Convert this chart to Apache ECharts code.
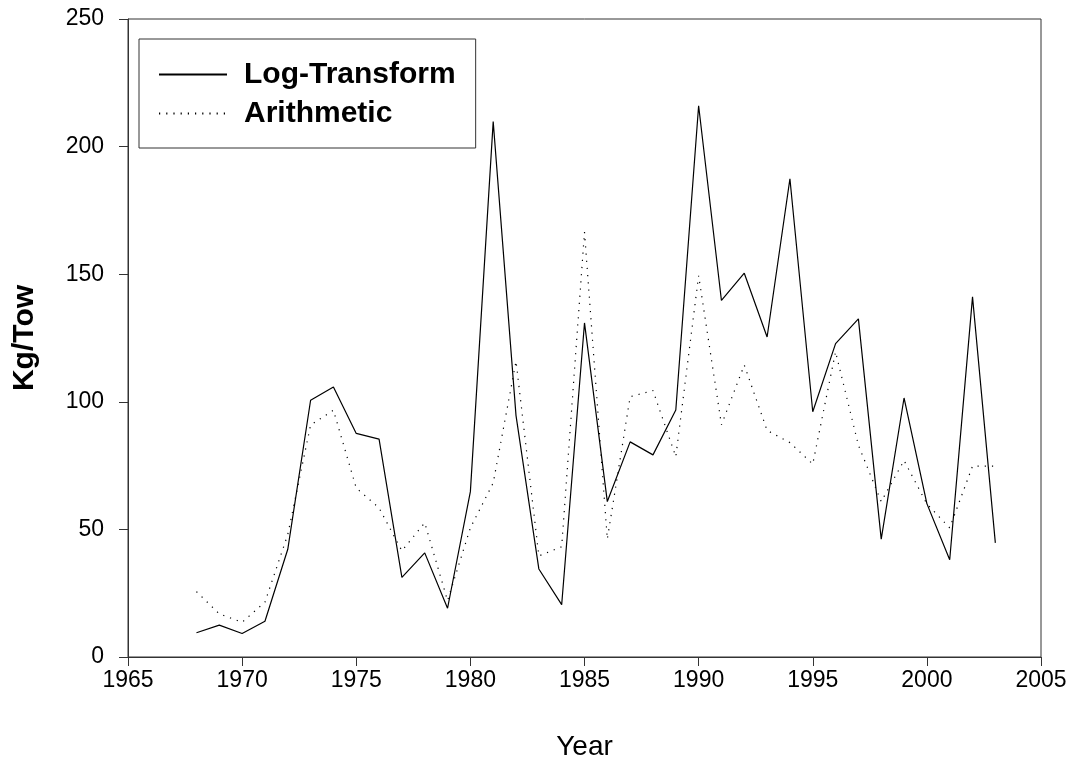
<!DOCTYPE html>
<html>
<head>
<meta charset="utf-8">
<script src="https://cdn.jsdelivr.net/npm/echarts@6/dist/echarts.min.js"></script>
<style>
  html, body { margin: 0; padding: 0; background: #fff; }
  #chart { width: 1074px; height: 766px; }
</style>
</head>
<body>
<div id="chart"></div>
<script>
// Survey years
const years = [1968, 1969, 1970, 1971, 1972, 1973, 1974, 1975, 1976, 1977, 1978, 1979,
  1980, 1981, 1982, 1983, 1984, 1985, 1986, 1987, 1988, 1989, 1990, 1991,
  1992, 1993, 1994, 1995, 1996, 1997, 1998, 1999, 2000, 2001, 2002, 2003];

// Mean catch per tow, log-transformed estimator
const logTransform = [9.5, 12.5, 9.2, 14.0, 42.2, 100.6, 105.8, 87.6, 85.4, 31.2, 40.8, 19.1,
  64.8, 209.8, 94.6, 34.5, 20.5, 130.9, 60.9, 84.3, 79.2, 96.8, 216.0, 139.7,
  150.4, 125.4, 187.4, 96.1, 122.8, 132.5, 46.2, 101.5, 60.1, 38.1, 141.1, 44.7];

// Mean catch per tow, arithmetic estimator
const arithmetic = [25.6, 16.9, 13.6, 21.5, 48.0, 90.9, 96.7, 66.2, 58.4, 41.6, 52.6, 22.1,
  50.6, 68.2, 115.9, 39.6, 43.2, 166.5, 46.2, 102.0, 104.4, 78.5, 149.4, 91.0,
  114.4, 88.8, 84.0, 75.6, 119.6, 83.0, 60.9, 77.0, 60.0, 50.6, 74.8, 74.8];

// Axis ticks
const yearTicks = [1965, 1970, 1975, 1980, 1985, 1990, 1995, 2000, 2005];
const kgTicks = [0, 50, 100, 150, 200, 250];

const toPairs = vals => years.map((y, i) => [y, vals[i]]);

const font = '"Liberation Sans", Arial, sans-serif';
const axisColor = '#333';

const chart = echarts.init(document.getElementById('chart'), null, { renderer: 'canvas' });

chart.setOption({
  animation: false,
  backgroundColor: '#fff',
  grid: {
    left: 128, right: 33, top: 19, bottom: 106,
    show: true, borderColor: axisColor, borderWidth: 1, backgroundColor: 'transparent'
  },
  legend: {
    left: 139, top: 39,
    orient: 'vertical',
    backgroundColor: '#fff',
    borderColor: axisColor, borderWidth: 1,
    padding: [19, 20, 18, 19],
    itemWidth: 68, itemHeight: 14, itemGap: 6,
    // line sample only, no marker in the middle
    itemStyle: { opacity: 0 },
    textStyle: {
      fontFamily: font, fontSize: 30, fontWeight: 'bold', color: '#000',
      padding: [0, 0, 0, 12], lineHeight: 33
    },
    data: ['Log-Transform', 'Arithmetic']
  },
  xAxis: {
    type: 'value',
    min: yearTicks[0], max: yearTicks[yearTicks.length - 1], interval: 5,
    name: 'Year', nameLocation: 'middle', nameGap: 76,
    nameTextStyle: { fontFamily: font, fontSize: 28, color: '#000' },
    axisLine: { show: true, onZero: false, lineStyle: { color: axisColor, width: 1 } },
    axisTick: { show: true, inside: false, length: 9, lineStyle: { color: axisColor } },
    axisLabel: { fontFamily: font, fontSize: 23, color: '#000', margin: 12,
      customValues: yearTicks, formatter: v => String(v) },
    splitLine: { show: false }
  },
  yAxis: {
    type: 'value',
    min: kgTicks[0], max: kgTicks[kgTicks.length - 1], interval: 50,
    name: 'Kg/Tow', nameLocation: 'middle', nameGap: 88, nameRotate: 90,
    nameTextStyle: { fontFamily: font, fontSize: 30, fontWeight: 'bold', color: '#000' },
    axisLine: { show: true, onZero: false, lineStyle: { color: axisColor, width: 1 } },
    axisTick: { show: true, inside: false, length: 9, lineStyle: { color: axisColor } },
    axisLabel: { fontFamily: font, fontSize: 23, color: '#000', margin: 24 },
    splitLine: { show: false }
  },
  series: [
    {
      name: 'Log-Transform',
      type: 'line',
      data: toPairs(logTransform),
      symbol: 'none',
      lineStyle: { color: '#000', width: 1.2, type: 'solid' },
      itemStyle: { color: '#000' },
      z: 3
    },
    {
      name: 'Arithmetic',
      type: 'line',
      data: toPairs(arithmetic),
      symbol: 'none',
      lineStyle: { color: '#000', width: 1.2, type: [1.2, 6] },
      itemStyle: { color: '#000' },
      z: 2
    }
  ]
});
</script>
</body>
</html>
